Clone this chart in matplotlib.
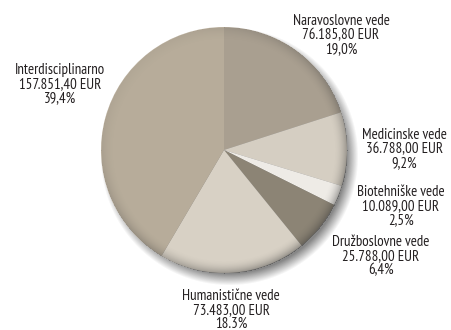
import matplotlib.pyplot as plt
import numpy as np

# Funding by research field
fields = ['Naravoslovne vede', 'Medicinske vede', 'Biotehniške vede',
          'Družboslovne vede', 'Humanistične vede', 'Interdisciplinarno']
amounts = [76185.80, 36788.00, 10089.00, 25788.00, 73483.00, 157851.40]
amount_labels = ['76.185,80 EUR', '36.788,00 EUR', '10.089,00 EUR',
                 '25.788,00 EUR', '73.483,00 EUR', '157.851,40 EUR']
share_labels = ['19,0%', '9,2%', '2,5%', '6,4%', '18.3%', '39,4%']
colors = ['#a99f90', '#d5cec2', '#eeebe6', '#8c8475', '#d8d1c5', '#b7ac9a']

# label anchor (x, y of middle line) in pixel coords, origin top-left
label_pos = [(341, 35), (404, 149), (401, 206), (381, 256), (231, 310), (60, 84)]

W, H = 451, 330
CX, CY, R = 224, 150, 123

family = ['PT Sans Narrow', 'DejaVu Sans']

fig = plt.figure(figsize=(W / 100, H / 100), dpi=100)
ax = fig.add_axes([0, 0, 1, 1])

# soft drop shadow to the lower right
yy, xx = np.mgrid[0:H, 0:W]
d = np.hypot(xx - (CX + 5), yy - (CY + 6))
shadow_alpha = np.clip((R + 6 - d) / 12, 0, 1) * 0.6
shadow = np.zeros((H, W, 4))
shadow[..., :3] = 0.22
shadow[..., 3] = shadow_alpha
ax.imshow(shadow, extent=(0, W, 0, H), origin='upper', zorder=1,
          interpolation='bilinear')

ax.pie(amounts, colors=colors, startangle=90, counterclock=False,
       center=(CX, H - CY), radius=R, frame=True,
       wedgeprops=dict(linewidth=0, zorder=2))

# darker bevel around the rim, heavier toward the lower right
d0 = np.hypot(xx - CX, yy - CY)
edge = np.clip((d0 - (R - 14)) / 14, 0, 1) ** 2
side = 0.55 + 0.45 * np.clip(((xx - CX) + (yy - CY)) / (1.4 * R), -1, 1)
bevel = np.zeros((H, W, 4))
bevel[..., :3] = 0.2
bevel[..., 3] = np.where(d0 <= R, edge * side * 0.45, 0)
ax.imshow(bevel, extent=(0, W, 0, H), origin='upper', zorder=3,
          interpolation='bilinear')

for name, amt, pct, (lx, ly) in zip(fields, amount_labels, share_labels, label_pos):
    ax.text(lx, H - ly, f'{name}\n{amt}\n{pct}', ha='center', va='center',
            multialignment='center', fontsize=10.7, family=family,
            color='#231f20', linespacing=0.98, zorder=5)

ax.set_xlim(0, W)
ax.set_ylim(0, H)
ax.set_aspect('equal')
ax.axis('off')

fig.savefig('out.png', dpi=100, facecolor='white')
